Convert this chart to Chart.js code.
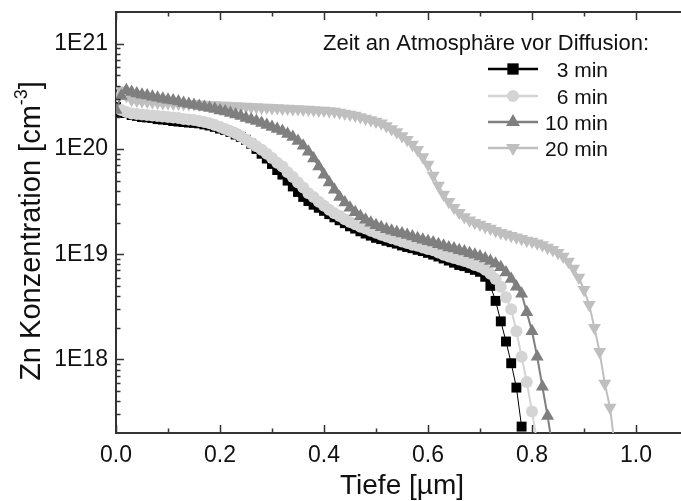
<!DOCTYPE html>
<html>
<head>
<meta charset="utf-8">
<script src="https://cdn.jsdelivr.net/npm/chart.js@4.4.1/dist/chart.umd.min.js"></script>
<style>
  html, body { margin: 0; padding: 0; background: #fff; overflow: hidden; }
  #wrap { position: relative; width: 700px; height: 501px; }
</style>
</head>
<body>
<div id="wrap"><canvas id="profileChart" width="700" height="501"></canvas></div>
<script>
// depth grid in µm (shared by all four profiles)
const depth = [
  0.00, 0.01, 0.02, 0.03, 0.04, 0.05, 0.06, 0.07, 0.08, 0.09,
  0.10, 0.11, 0.12, 0.13, 0.14, 0.15, 0.16, 0.17, 0.18, 0.19,
  0.20, 0.21, 0.22, 0.23, 0.24, 0.25, 0.26, 0.27, 0.28, 0.29,
  0.30, 0.31, 0.32, 0.33, 0.34, 0.35, 0.36, 0.37, 0.38, 0.39,
  0.40, 0.41, 0.42, 0.43, 0.44, 0.45, 0.46, 0.47, 0.48, 0.49,
  0.50, 0.51, 0.52, 0.53, 0.54, 0.55, 0.56, 0.57, 0.58, 0.59,
  0.60, 0.61, 0.62, 0.63, 0.64, 0.65, 0.66, 0.67, 0.68, 0.69,
  0.70, 0.71, 0.72, 0.73, 0.74, 0.75, 0.76, 0.77, 0.78, 0.79,
  0.80, 0.81, 0.82, 0.83, 0.84, 0.85, 0.86, 0.87, 0.88, 0.89,
  0.90, 0.91, 0.92, 0.93, 0.94, 0.95, 0.96
];

// Zn concentration in cm^-3, one value per depth step
const conc3min = [
  2.5e20, 2.2e20, 2.20e20, 2.10e20, 2.06e20, 2.01e20, 1.99e20, 1.97e20, 1.92e20, 1.90e20,
  1.88e20, 1.84e20, 1.82e20, 1.80e20, 1.78e20, 1.77e20, 1.75e20, 1.71e20, 1.67e20, 1.62e20,
  1.56e20, 1.51e20, 1.45e20, 1.37e20, 1.30e20, 1.22e20, 1.12e20, 1.00e20, 9.0e19, 8.1e19,
  7.2e19, 6.3e19, 5.7e19, 5.0e19, 4.4e19, 3.9e19, 3.5e19, 3.2e19, 2.95e19, 2.76e19,
  2.58e19, 2.40e19, 2.24e19, 2.10e19, 1.97e19, 1.84e19, 1.75e19, 1.65e19, 1.57e19, 1.50e19,
  1.43e19, 1.39e19, 1.34e19, 1.30e19, 1.26e19, 1.21e19, 1.17e19, 1.14e19, 1.10e19, 1.07e19,
  1.03e19, 9.9e18, 9.5e18, 9.1e18, 8.7e18, 8.3e18, 7.9e18, 7.7e18, 7.4e18, 7.1e18,
  6.8e18, 6.1e18, 5.0e18, 3.6e18, 2.3e18, 1.48e18, 9.2e17, 5.4e17, 2.3e17
];

const conc6min = [
  null, 2.34e20, 2.24e20, 2.17e20, 2.15e20, 2.12e20, 2.10e20, 2.08e20, 2.06e20, 2.03e20,
  2.01e20, 1.99e20, 1.97e20, 1.92e20, 1.90e20, 1.88e20, 1.84e20, 1.80e20, 1.75e20, 1.69e20,
  1.62e20, 1.55e20, 1.48e20, 1.41e20, 1.33e20, 1.23e20, 1.14e20, 1.06e20, 9.8e19, 9.0e19,
  8.2e19, 7.4e19, 6.8e19, 6.0e19, 5.4e19, 4.8e19, 4.3e19, 3.8e19, 3.5e19, 3.15e19,
  2.88e19, 2.65e19, 2.45e19, 2.30e19, 2.15e19, 2.02e19, 1.92e19, 1.82e19, 1.75e19, 1.67e19,
  1.60e19, 1.53e19, 1.47e19, 1.42e19, 1.37e19, 1.32e19, 1.28e19, 1.23e19, 1.20e19, 1.16e19,
  1.12e19, 1.09e19, 1.04e19, 9.9e18, 9.5e18, 9.2e18, 8.9e18, 8.6e18, 8.3e18, 7.9e18,
  7.6e18, 7.1e18, 6.5e18, 5.8e18, 4.9e18, 3.9e18, 3.0e18, 1.85e18, 1.06e18, 6.1e17,
  3.2e17, 1.6e17
];

const conc10min = [
  2.34e20, 3.18e20, 3.62e20, 3.47e20, 3.36e20, 3.28e20, 3.21e20, 3.14e20, 3.07e20, 3.00e20,
  2.94e20, 2.88e20, 2.82e20, 2.73e20, 2.67e20, 2.61e20, 2.56e20, 2.50e20, 2.45e20, 2.39e20,
  2.32e20, 2.27e20, 2.20e20, 2.12e20, 2.06e20, 1.97e20, 1.90e20, 1.84e20, 1.76e20, 1.69e20,
  1.62e20, 1.55e20, 1.48e20, 1.39e20, 1.30e20, 1.19e20, 1.07e20, 9.4e19, 8.1e19, 6.8e19,
  5.7e19, 4.8e19, 4.1e19, 3.5e19, 3.1e19, 2.76e19, 2.50e19, 2.29e19, 2.12e19, 1.99e19,
  1.88e19, 1.80e19, 1.73e19, 1.67e19, 1.62e19, 1.57e19, 1.52e19, 1.47e19, 1.42e19, 1.37e19,
  1.33e19, 1.29e19, 1.24e19, 1.20e19, 1.16e19, 1.13e19, 1.09e19, 1.06e19, 1.02e19, 9.9e18,
  9.5e18, 9.1e18, 8.6e18, 8.1e18, 7.5e18, 6.7e18, 5.8e18, 4.9e18, 4.2e18, 2.8e18,
  1.85e18, 1.06e18, 5.5e17, 2.9e17, 1.4e17
];

const conc20min = [
  3.18e20, 3.62e20, 3.18e20, 2.94e20, 2.88e20, 2.85e20, 2.82e20, 2.79e20, 2.76e20, 2.73e20,
  2.73e20, 2.70e20, 2.70e20, 2.67e20, 2.67e20, 2.67e20, 2.64e20, 2.64e20, 2.61e20, 2.61e20,
  2.59e20, 2.59e20, 2.56e20, 2.56e20, 2.53e20, 2.53e20, 2.50e20, 2.50e20, 2.48e20, 2.48e20,
  2.45e20, 2.45e20, 2.42e20, 2.42e20, 2.39e20, 2.39e20, 2.37e20, 2.37e20, 2.34e20, 2.32e20,
  2.32e20, 2.29e20, 2.27e20, 2.22e20, 2.17e20, 2.12e20, 2.08e20, 2.01e20, 1.95e20, 1.88e20,
  1.82e20, 1.75e20, 1.65e20, 1.55e20, 1.45e20, 1.33e20, 1.22e20, 1.10e20, 9.8e19, 8.4e19,
  7.1e19, 5.6e19, 4.5e19, 3.7e19, 3.15e19, 2.76e19, 2.47e19, 2.26e19, 2.10e19, 1.99e19,
  1.91e19, 1.82e19, 1.75e19, 1.67e19, 1.60e19, 1.55e19, 1.50e19, 1.45e19, 1.40e19, 1.35e19,
  1.32e19, 1.27e19, 1.22e19, 1.16e19, 1.10e19, 1.03e19, 9.5e18, 8.5e18, 7.3e18, 6.0e18,
  4.6e18, 3.3e18, 2.0e18, 1.18e18, 5.9e17, 3.5e17, 1.4e17
];

const seriesLabels = ['3 min', '6 min', '10 min', '20 min'];
const xTickValues = [0.0, 0.2, 0.4, 0.6, 0.8, 1.0];
const yTickValues = [1e18, 1e19, 1e20, 1e21];

const FONT = '"Liberation Sans", Arial, Helvetica, sans-serif';

function toPoints(values) {
  const pts = [];
  values.forEach((v, i) => {
    if (v !== null) pts.push({ x: depth[i], y: v });
  });
  return pts;
}

function seriesStyle(color, style, radius, rotation, order, lineWidth) {
  return {
    borderColor: color,
    backgroundColor: color,
    pointBackgroundColor: color,
    pointBorderColor: color,
    pointBorderWidth: 0,
    borderWidth: lineWidth,
    pointStyle: style,
    pointRadius: radius,
    pointHoverRadius: radius,
    pointRotation: rotation,
    tension: 0,
    order: order
  };
}

// inward ticks, top frame line, axis titles and the legend box
const decorations = {
  id: 'decorations',
  afterDraw(chart) {
    const ctx = chart.ctx;
    const area = chart.chartArea;
    const xs = chart.scales.x;
    const ys = chart.scales.y;
    ctx.save();

    ctx.strokeStyle = '#333';
    ctx.lineWidth = 2;
    ctx.beginPath();
    ctx.moveTo(area.left - 1, area.top);
    ctx.lineTo(area.right, area.top);
    ctx.stroke();

    ctx.lineWidth = 1.5;
    // x ticks at every 0.1, long ones at the labelled values
    const step = (xTickValues[1] - xTickValues[0]) / 2;
    for (let v = 0; v <= xs.max + 1e-9; v += step) {
      const px = Math.round(xs.getPixelForValue(v)) + 0.5;
      const major = xTickValues.some(t => Math.abs(t - v) < 1e-6);
      const len = major ? 8 : 4.5;
      ctx.beginPath();
      ctx.moveTo(px, area.bottom);
      ctx.lineTo(px, area.bottom - len);
      ctx.moveTo(px, area.top);
      ctx.lineTo(px, area.top + len);
      ctx.stroke();
    }
    // y ticks at 1..9 x 10^n
    const e0 = Math.floor(Math.log10(ys.min));
    const e1 = Math.ceil(Math.log10(ys.max));
    for (let e = e0; e <= e1; e++) {
      for (let m = 1; m <= 9; m++) {
        const v = m * Math.pow(10, e);
        if (v <= ys.min || v >= ys.max) continue;
        const py = Math.round(ys.getPixelForValue(v)) + 0.5;
        const len = m === 1 ? 8 : 4.5;
        ctx.beginPath();
        ctx.moveTo(area.left, py);
        ctx.lineTo(area.left + len, py);
        ctx.stroke();
      }
    }

    // axis titles
    ctx.fillStyle = '#111';
    ctx.font = '28px ' + FONT;
    ctx.textAlign = 'center';
    ctx.textBaseline = 'alphabetic';
    ctx.fillText('Tiefe [µm]', (area.left + area.right) / 2, 494);

    ctx.save();
    ctx.translate(40, 231);
    ctx.rotate(-Math.PI / 2);
    ctx.textAlign = 'left';
    const main = 'Zn Konzentration [cm';
    const sup = '-3';
    const close = ']';
    ctx.font = '29px ' + FONT;
    const wMain = ctx.measureText(main).width;
    const wClose = ctx.measureText(close).width;
    ctx.font = '18px ' + FONT;
    const wSup = ctx.measureText(sup).width;
    let x0 = -(wMain + wSup + wClose) / 2;
    ctx.font = '29px ' + FONT;
    ctx.fillText(main, x0, 0);
    ctx.font = '18px ' + FONT;
    ctx.fillText(sup, x0 + wMain, -13);
    ctx.font = '29px ' + FONT;
    ctx.fillText(close, x0 + wMain + wSup, 0);
    ctx.restore();

    // legend
    ctx.textAlign = 'left';
    ctx.font = '22px ' + FONT;
    ctx.fillText('Zeit an Atmosphäre vor Diffusion:', 323, 50);
    const rowY = [69, 96, 122, 148];
    [0, 1, 2, 3].forEach((di, row) => {
      const ds = chart.data.datasets[di];
      const y = rowY[row];
      ctx.strokeStyle = ds.borderColor;
      ctx.lineWidth = 2.5;
      ctx.beginPath();
      ctx.moveTo(488, y);
      ctx.lineTo(538, y);
      ctx.stroke();
      ctx.fillStyle = ds.pointBackgroundColor;
      Chart.helpers.drawPoint(ctx, {
        pointStyle: ds.pointStyle,
        radius: ds.pointStyle === 'circle' ? 6 : 8,
        rotation: ds.pointRotation,
        borderWidth: 0
      }, 513, y);
      ctx.fillStyle = '#111';
      ctx.font = '21px ' + FONT;
      ctx.textAlign = 'right';
      ctx.fillText(seriesLabels[di], 608, y + 7.5);
    });

    ctx.restore();
  }
};

const ctx = document.getElementById('profileChart').getContext('2d');
const profileChart = new Chart(ctx, {
  type: 'line',
  data: {
    datasets: [
      Object.assign({ label: seriesLabels[0], data: toPoints(conc3min) }, seriesStyle('#000000', 'rect', 7, 0, 2, 1)),
      Object.assign({ label: seriesLabels[1], data: toPoints(conc6min) }, seriesStyle('#d4d4d4', 'circle', 6, 0, 1, 2)),
      Object.assign({ label: seriesLabels[2], data: toPoints(conc10min) }, seriesStyle('#7f7f7f', 'triangle', 7.5, 0, 0, 2)),
      Object.assign({ label: seriesLabels[3], data: toPoints(conc20min) }, seriesStyle('#bfbfbf', 'triangle', 7.5, 180, 3, 2))
    ]
  },
  options: {
    responsive: false,
    devicePixelRatio: 1,
    animation: false,
    events: [],
    layout: { padding: { top: 12, right: 12, left: 0, bottom: 0 } },
    plugins: {
      legend: { display: false },
      tooltip: { enabled: false }
    },
    scales: {
      x: {
        type: 'linear',
        min: 0,
        max: 1.1,
        grid: { display: false, drawTicks: false },
        border: { display: true, color: '#333', width: 2 },
        ticks: {
          padding: 9,
          autoSkip: false,
          maxRotation: 0,
          color: '#111',
          font: { family: FONT, size: 23 },
          callback: (v) => Number(v).toFixed(1)
        },
        afterBuildTicks: (axis) => { axis.ticks = xTickValues.map(v => ({ value: v })); },
        afterFit: (scale) => {
          scale.height = 68;
          scale.paddingLeft = 0;
          scale.paddingRight = 0;
        }
      },
      y: {
        type: 'logarithmic',
        min: 2e17,
        max: 2e21,
        grid: { display: false, drawTicks: false },
        border: { display: true, color: '#333', width: 2 },
        ticks: {
          padding: 8,
          autoSkip: false,
          color: '#111',
          font: { family: FONT, size: 23 },
          callback: (v) => '1E' + Math.round(Math.log10(v))
        },
        afterBuildTicks: (axis) => { axis.ticks = yTickValues.map(v => ({ value: v })); },
        afterFit: (scale) => {
          scale.width = 116;
          scale.paddingTop = 0;
          scale.paddingBottom = 0;
        }
      }
    }
  },
  plugins: [decorations]
});
</script>
</body>
</html>
